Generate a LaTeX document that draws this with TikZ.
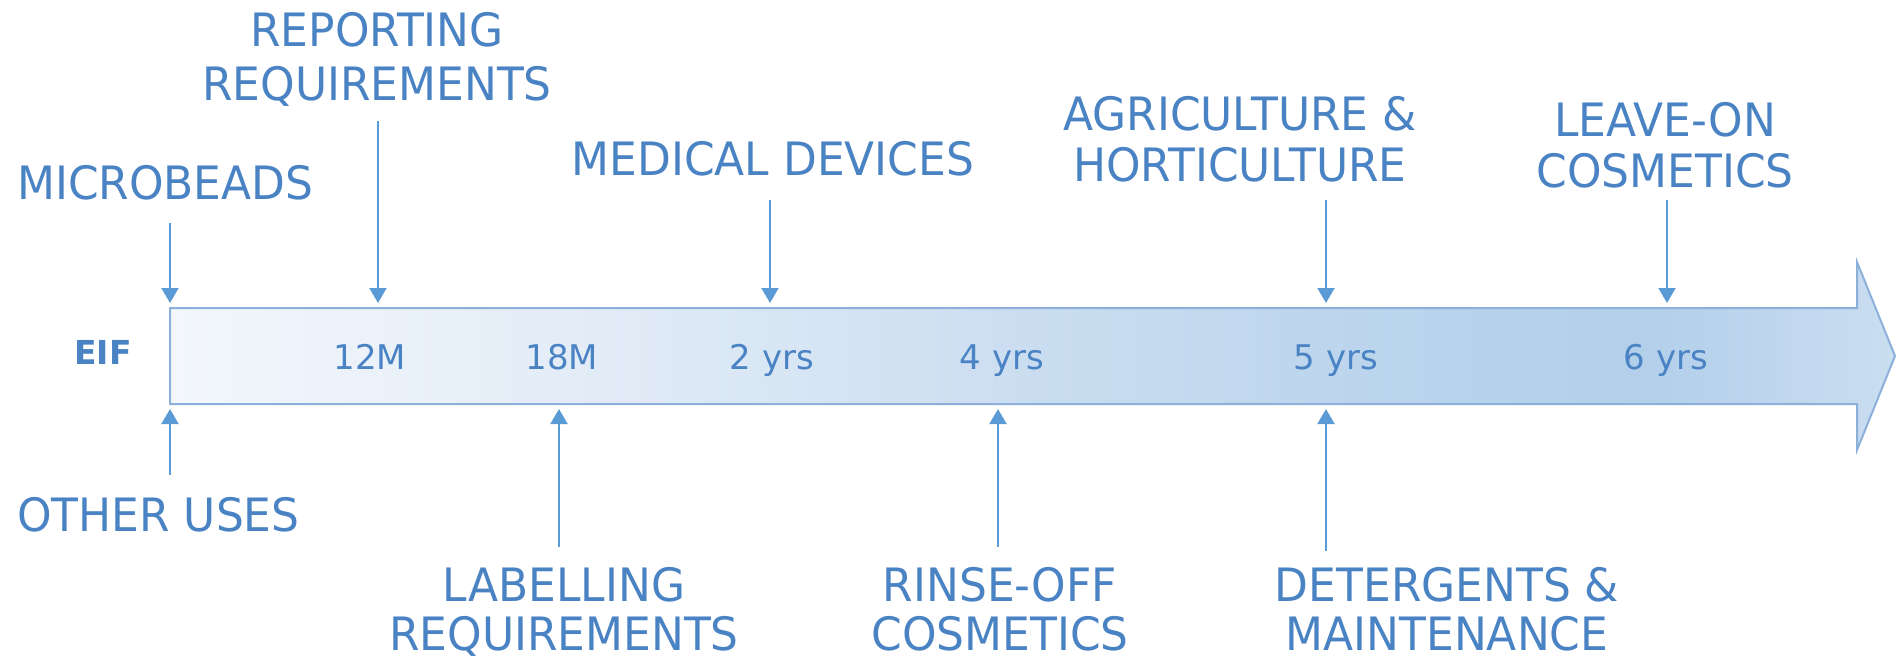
\documentclass[tikz,border=0pt]{standalone}
\usepackage{fontspec}
\setmainfont{DejaVu Sans}
\newfontfamily\labfont{DejaVu Sans}[FakeStretch=0.955]
\usetikzlibrary{arrows.meta}
\definecolor{txt}{HTML}{4A83C4}
\definecolor{arr}{HTML}{5B9BD5}
\definecolor{barline}{HTML}{8CB0DA}
\definecolor{c0}{HTML}{F3F7FC}
\definecolor{c1}{HTML}{E2ECF7}
\definecolor{c2}{HTML}{CADDF0}
\definecolor{c3}{HTML}{B8D3EC}
\definecolor{c4}{HTML}{B3CFEA}
\definecolor{c5}{HTML}{C6DBF0}
\definecolor{c6}{HTML}{CADEF1}
\pgfdeclarehorizontalshading{barshade}{100bp}{color(0bp)=(c0); color(25bp)=(c0); color(37.4bp)=(c1); color(50.2bp)=(c2); color(62bp)=(c3); color(67.8bp)=(c4); color(73.8bp)=(c5); color(75bp)=(c6); color(100bp)=(c6)}
\tikzset{
  tick/.style={draw=arr, line width=2pt, -{Triangle[width=17pt,length=15pt]}},
  lab/.style={font=\labfont\fontsize{46}{54}\selectfont, text=txt, align=center, inner sep=0pt, anchor=north},
  labmid/.style={lab, font=\labfont\fontsize{46}{51}\selectfont},
  labbot/.style={lab, font=\labfont\fontsize{46}{49}\selectfont},
  year/.style={font=\fontsize{34}{40}\selectfont, text=txt, inner sep=0pt, anchor=base},
  eif/.style={font=\bfseries\fontsize{33}{40}\selectfont, text=txt, inner sep=0pt, anchor=base},
  bar/.style={draw=barline, line width=2pt, shading=barshade, line join=miter}
}
\begin{document}
\begin{tikzpicture}[x=1pt,y=-1pt]
\useasboundingbox (0,0) rectangle (1898,659);
% timeline arrow
\path[bar] (170,308) -- (1857,308) -- (1857,262) -- (1895,356) -- (1857,450) -- (1857,404) -- (170,404) -- cycle;
% bar labels
\node[eif] (eif) at (103,364) {EIF};
\node[year] (y12) at (370,369) {12M};
\node[year] (y18) at (562,369) {18M};
\node[year] (y2) at (772,369) {2 yrs};
\node[year] (y4) at (1002,369) {4 yrs};
\node[year] (y5) at (1336,369) {5 yrs};
\node[year] (y6) at (1666,369) {6 yrs};
% top labels
\node[lab, anchor=north west] (mb) at (17,165) {MICROBEADS};
\node[lab] (rep) at (377,12) {REPORTING\\REQUIREMENTS};
\node[lab] (med) at (773,141) {MEDICAL DEVICES};
\node[labmid] (agr) at (1240,96) {AGRICULTURE \&\\HORTICULTURE};
\node[labmid] (lea) at (1665,102) {LEAVE-ON\\COSMETICS};
% bottom labels
\node[lab, anchor=north west] (oth) at (17,497) {OTHER USES};
\node[labbot] (lab) at (564,567) {LABELLING\\REQUIREMENTS};
\node[labbot] (rin) at (1000,567) {RINSE-OFF\\COSMETICS};
\node[labbot] (det) at (1447,567) {DETERGENTS \&\\MAINTENANCE};
% connector end points
\coordinate (mbS) at (170,223);  \coordinate (mbE) at (170,303);
\coordinate (repS) at (378,121); \coordinate (repE) at (378,303);
\coordinate (medS) at (770,200); \coordinate (medE) at (770,303);
\coordinate (agrS) at (1326,200); \coordinate (agrE) at (1326,303);
\coordinate (leaS) at (1667,200); \coordinate (leaE) at (1667,303);
\coordinate (othS) at (170,475); \coordinate (othE) at (170,409);
\coordinate (labS) at (559,547); \coordinate (labE) at (559,409);
\coordinate (rinS) at (998,547); \coordinate (rinE) at (998,409);
\coordinate (detS) at (1326,551); \coordinate (detE) at (1326,409);
% connectors
\draw[tick] (mbS) -- (mbE);
\draw[tick] (repS) -- (repE);
\draw[tick] (medS) -- (medE);
\draw[tick] (agrS) -- (agrE);
\draw[tick] (leaS) -- (leaE);
\draw[tick] (othS) -- (othE);
\draw[tick] (labS) -- (labE);
\draw[tick] (rinS) -- (rinE);
\draw[tick] (detS) -- (detE);
\end{tikzpicture}
\end{document}
